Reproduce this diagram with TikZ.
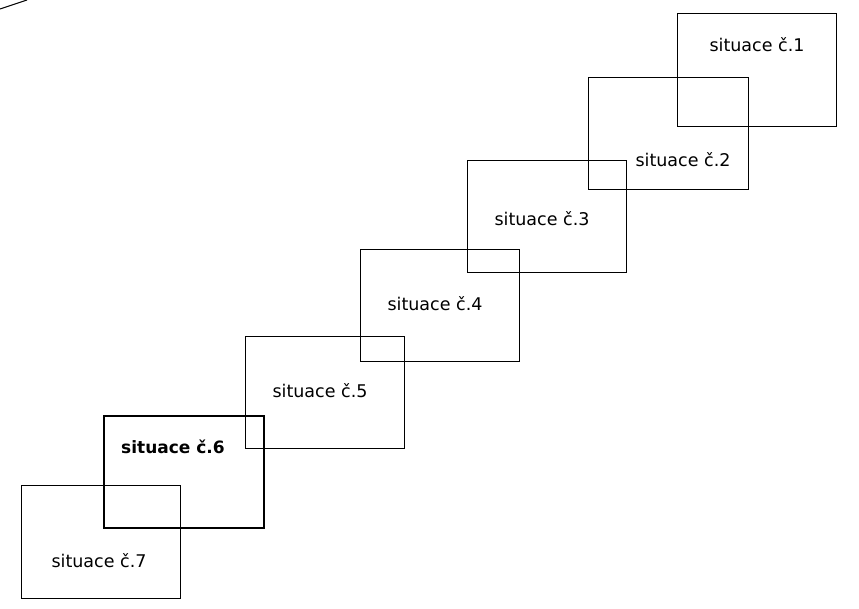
\documentclass[tikz,border=0pt]{standalone}
\usepackage{fontspec}
\setmainfont{DejaVu Sans}
\begin{document}
\begin{tikzpicture}[x=1pt,y=-1pt,
  sit/.style={draw=black,line width=1pt,rectangle,inner sep=0pt,outer sep=0pt,anchor=north west},
  sitthick/.style={sit,line width=2pt},
  lab/.style={inner sep=0pt,font=\fontsize{17.5}{20}\selectfont},
  labbold/.style={inner sep=0pt,font=\fontsize{17}{20}\selectfont\bfseries}]
\useasboundingbox (0,0) rectangle (859,608);
\coordinate (e1) at (0,9);
\coordinate (e2) at (27,0);
\draw[line width=1pt] (e1) -- (e2);
% boxes
\node[sit,minimum width=159pt,minimum height=113pt] (b1) at (677,13) {};
\node[sit,minimum width=160pt,minimum height=112pt] (b2) at (588,77) {};
\node[sit,minimum width=159pt,minimum height=112pt] (b3) at (467,160) {};
\node[sit,minimum width=159pt,minimum height=112pt] (b4) at (360,249) {};
\node[sit,minimum width=159pt,minimum height=112pt] (b5) at (245,336) {};
\node[sitthick,minimum width=160pt,minimum height=112pt] (b6) at (104,416) {};
\node[sit,minimum width=159pt,minimum height=113pt] (b7) at (21,485) {};
% labels
\node[lab] (t1) at (757,45) {situace č.1};
\node[lab] (t2) at (683,160) {situace č.2};
\node[lab] (t3) at (542,219) {situace č.3};
\node[lab] (t4) at (435,304) {situace č.4};
\node[lab] (t5) at (320,391) {situace č.5};
\node[labbold] (t6) at (173,447) {situace č.6};
\node[lab] (t7) at (99,561) {situace č.7};
\end{tikzpicture}
\end{document}
